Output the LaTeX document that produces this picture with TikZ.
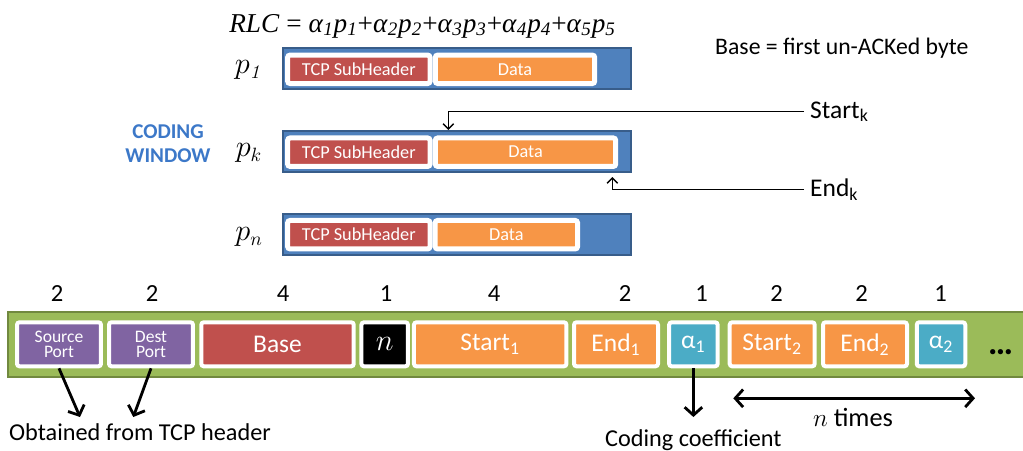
\documentclass[tikz,border=0pt]{standalone}
\usepackage[no-math]{fontspec}
\setmainfont{Carlito}
\newfontfamily\formfont{Liberation Serif}
\usetikzlibrary{arrows.meta}

\definecolor{pktblue}{HTML}{4F81BD}
\definecolor{pktedge}{HTML}{385D8A}
\definecolor{hdrred}{HTML}{C0504D}
\definecolor{dataorange}{HTML}{F79646}
\definecolor{portpurple}{HTML}{8064A2}
\definecolor{coefcyan}{HTML}{4BACC6}
\definecolor{bargreen}{HTML}{9BBB59}
\definecolor{baredge}{HTML}{71893F}
\definecolor{wintext}{HTML}{3C78C8}

\newcommand{\term}[1]{\textit{α}\textsubscript{\textit{#1}}\textit{p}\textsubscript{\textit{#1}}}

\tikzset{
    pkt/.style={fill=pktblue,draw=pktedge,line width=0.04cm,minimum width=6.96cm,minimum height=0.82cm,inner sep=0},
    seg/.style={fill=#1,draw=white,line width=0.1cm,rounded corners=0.05cm,minimum height=0.57cm,inner sep=0,text=white,font=\fontsize{10.4}{12}\selectfont},
    field/.style={fill=#1,draw=white,line width=0.08cm,rounded corners=0.05cm,minimum height=0.88cm,inner sep=0,text=white,font=\fontsize{14.5}{16}\selectfont},
    plabel/.style={font=\fontsize{16}{18}\selectfont},
    bigarrow/.style={line width=1.6pt,-{Straight Barb[length=4.5pt,width=10pt]}},
    thinarrow/.style={line width=0.8pt,-{Straight Barb[length=3pt,width=6pt]}},
}

\begin{document}
\begin{tikzpicture}[x=0.02cm,y=-0.02cm]
    \useasboundingbox (0,0) rectangle (1023,450);

    % coded packet
    \node[anchor=base west,inner sep=0,font=\formfont\fontsize{15.5}{17}\selectfont] (rlc) at (229,32)
        {\textit{RLC} = \term{1}+\term{2}+\term{3}+\term{4}+\term{5}};
    \node[anchor=base west,font=\fontsize{13.5}{15}\selectfont] (basenote) at (709,54) {Base = first un-ACKed byte};

    % packets in the window
    \node[pkt] (pone) at (456.7,68.8) {};
    \node[seg=hdrred,minimum width=2.85cm] (hone) at (358.85,69.3) {TCP SubHeader};
    \node[seg=dataorange,minimum width=3.19cm] (done) at (515,69.3) {Data};
    \node[plabel] (lone) at (249,70) {$p_{\mathit{1}}$};

    \node[pkt] (pk) at (456.7,151.7) {};
    \node[seg=hdrred,minimum width=2.85cm] (hk) at (358.85,152.2) {TCP SubHeader};
    \node[seg=dataorange,minimum width=3.61cm] (dk) at (525.5,152.2) {Data};
    \node[plabel] (lk) at (249,153) {$p_k$};

    \node[pkt] (pn) at (456.7,234.2) {};
    \node[seg=hdrred,minimum width=2.85cm] (hn) at (358.85,234.7) {TCP SubHeader};
    \node[seg=dataorange,minimum width=2.85cm] (dn) at (506.35,234.7) {Data};
    \node[plabel] (ln) at (249,237) {$p_n$};

    \node[align=center,text=wintext,font=\fontsize{12}{14}\selectfont\bfseries] (window) at (168,143.5) {CODING\\WINDOW};

    % start and end pointers
    \node[anchor=west,font=\fontsize{14.5}{16}\selectfont] (startk) at (804,111.7) {Start\textsubscript{k}};
    \node[anchor=west,font=\fontsize{14.5}{16}\selectfont] (endk) at (804,189.3) {End\textsubscript{k}};
    \coordinate (sk) at (448.3,130);
    \coordinate (ek) at (612.3,177);
    \draw[thinarrow] (startk.west) -| (sk);
    \draw[thinarrow] (endk.west) -| (ek);

    % header layout
    \draw[fill=bargreen,draw=baredge,line width=0.04cm] (8,311.7) rectangle (1040,377.3);
    \foreach \x/\len [count=\i] in {57/2,152/2,283/4,386/1,494/4,625/2,701.7/1,776.7/2,861.7/2,940.7/1}
        \node[anchor=base,font=\fontsize{14}{16}\selectfont] (len\i) at (\x,301.7) {\len};

    \node[field=portpurple,minimum width=1.68cm,align=center,font=\fontsize{10}{8.5}\selectfont] (sport) at (59,344.3) {Source\\Port};
    \node[field=portpurple,minimum width=1.68cm,align=center,font=\fontsize{10}{8.5}\selectfont] (dport) at (151,344.3) {Dest\\Port};
    \node[field=hdrred,minimum width=3.05cm] (base) at (277.5,344.3) {Base};
    \node[field=black,minimum width=0.93cm,font=\fontsize{16}{18}\selectfont] (nfield) at (384.7,344.3) {$n$};
    \node[field=dataorange,minimum width=3.05cm] (startone) at (490.2,344.3) {Start\textsubscript{1}};
    \node[field=dataorange,minimum width=1.68cm] (endone) at (616,344.3) {End\textsubscript{1}};
    \node[field=coefcyan,minimum width=0.97cm] (aone) at (693.4,344.3) {α\textsubscript{1}};
    \node[field=dataorange,minimum width=1.7cm] (starttwo) at (772.2,344.3) {Start\textsubscript{2}};
    \node[field=dataorange,minimum width=1.68cm] (endtwo) at (865,344.3) {End\textsubscript{2}};
    \node[field=coefcyan,minimum width=0.97cm] (atwo) at (941,344.3) {α\textsubscript{2}};
    \node[anchor=base,font=\fontsize{20}{22}\selectfont\bfseries] (more) at (1000.5,354) {\ldots};

    % notes below
    \node[anchor=base,font=\fontsize{13.8}{15}\selectfont] (obtained) at (140,440) {Obtained from TCP header};
    \node[anchor=base,font=\fontsize{13.8}{15}\selectfont] (coef) at (693.4,446.5) {Coding coefficient};
    \node[anchor=base,font=\fontsize{15}{17}\selectfont] (ntimes) at (853,426.7) {$n$ times};
    \coordinate (os) at (80,417);
    \coordinate (od) at (133.3,417);
    \coordinate (oc) at (693.4,417);
    \coordinate (nl) at (733.3,398.3);
    \coordinate (nr) at (975,398.3);
    \draw[bigarrow] (sport.south) -- (os);
    \draw[bigarrow] (dport.south) -- (od);
    \draw[bigarrow] (aone.south) -- (oc);
    \draw[bigarrow,{Straight Barb[length=4.5pt,width=10pt]}-{Straight Barb[length=4.5pt,width=10pt]}] (nl) -- (nr);
\end{tikzpicture}
\end{document}
